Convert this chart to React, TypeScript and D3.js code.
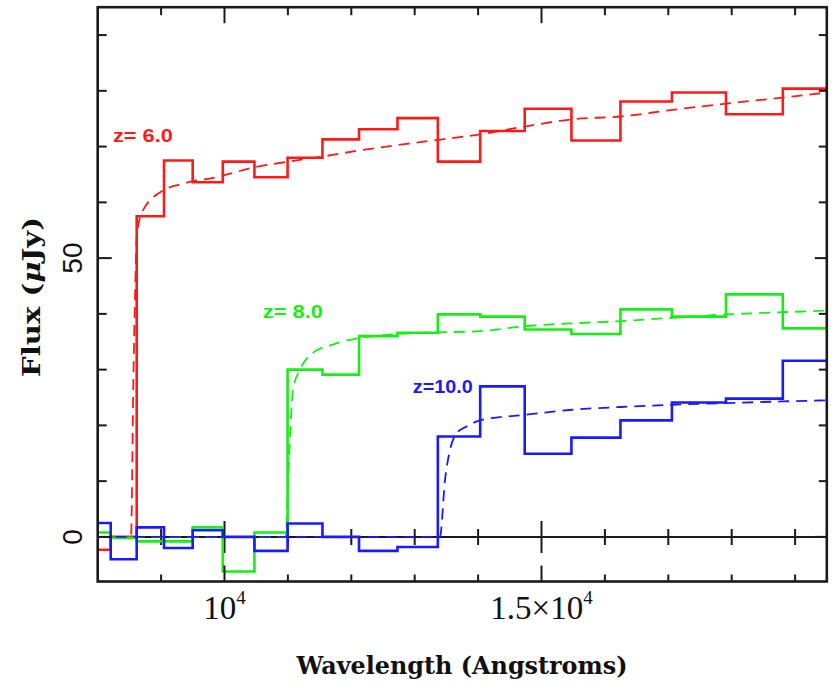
import React from "react";
import * as d3 from "d3";

// Bin edges (Angstroms) shared by the three binned spectra
const binEdges = [7814, 8205, 8615, 9046, 9498, 9973, 10472, 10995, 11545, 12122, 12728, 13365, 14033, 14735, 15472, 16245, 17057, 17910, 18806, 19746];

// Binned fluxes (μJy), one value per bin
const fluxZ6 = [-2.3, 0, 57.5, 67.5, 63.6, 67.3, 64.5, 68.0, 71.3, 73.1, 75.1, 67.3, 72.8, 76.8, 71.1, 78.1, 79.7, 75.8, 80.4];
const fluxZ8 = [0.8, -0.2, -0.8, -0.8, 1.7, -6.2, 0.8, 30.0, 29.1, 36.0, 36.6, 39.9, 39.5, 37.2, 36.4, 40.8, 39.5, 43.5, 37.4];
const fluxZ10 = [2.5, -4.0, 1.7, -2.0, 1.2, 0, -2.5, 2.4, 0, -2.5, -1.8, 18.0, 27.0, 14.9, 17.8, 20.9, 24.1, 24.8, 31.6];

// Model spectra (dashed)
const modelWaveZ6 = [8000, 8525, 8562, 8588, 8615, 8694, 9009, 9298, 9508, 9823, 10481, 11002, 11538, 12121, 13084, 14030, 14740, 15481, 16254, 17074, 17910, 18809, 19500];
const modelFluxZ6 = [0, 0, 27.7, 42.6, 53.7, 58.1, 62.0, 63.2, 63.8, 64.4, 66.3, 67.3, 68.2, 69.3, 70.8, 72.2, 73.6, 74.9, 75.4, 76.6, 77.7, 78.8, 79.7];
const modelWaveZ8 = [8000, 10965, 11000, 11037, 11081, 11190, 11395, 11711, 12137, 12768, 13084, 14030, 14740, 15481, 16254, 17074, 17910, 18809, 19500];
const modelFluxZ8 = [0, 0, 9, 18.7, 26.4, 30.0, 33.0, 34.5, 35.7, 36.4, 36.6, 36.9, 37.8, 38.3, 38.7, 39.3, 39.9, 40.3, 40.6];
const modelWaveZ10 = [8000, 13398, 13478, 13557, 13662, 13820, 14030, 14740, 15481, 16254, 17074, 17910, 18809, 19500];
const modelFluxZ10 = [0, 0, 10.2, 15.6, 18.6, 19.8, 20.9, 21.9, 22.8, 23.3, 23.7, 24.0, 24.3, 24.5];

// Redshift labels: text and anchor (wavelength, flux)
const labelText = ["z= 6.0", "z= 8.0", "z=10.0"];
const labelWave = [8240, 10605, 12970];
const labelFlux = [70.8, 39.3, 25.8];

// Axis ticks
const xMinorTicks = [9000, 10000, 11000, 12000, 13000, 14000, 15000, 16000, 17000, 18000, 19000];
const xMajorTicks = [10000, 15000];
const yTicks = [0, 10, 20, 30, 40, 50, 60, 70, 80, 90];
const yMajorTicks = [0, 50];
const yTickLabels = ["0", "50"];

const W = 837;
const H = 690;
const left = 97.7, right = 826.8, top = 7.2, bottom = 581.5;

const x = d3.scaleLinear().domain([8000, 19500]).range([left, right]);
const y = d3.scaleLinear().domain([-8, 95]).range([bottom, top]);

const colors = ["#ff1a1a", "#14f014", "#1a1aff"];

function stepPath(values: number[]) {
  const pts: [number, number][] = values.map((v, i) => [binEdges[i], v]);
  pts.push([binEdges[values.length], values[values.length - 1]]);
  return d3
    .line<[number, number]>()
    .x((d) => x(d[0]))
    .y((d) => y(d[1]))
    .curve(d3.curveStepAfter)(pts) as string;
}

function modelPath(w: number[], f: number[]) {
  const pts: [number, number][] = w.map((v, i) => [v, f[i]]);
  return d3
    .line<[number, number]>()
    .x((d) => x(d[0]))
    .y((d) => y(d[1]))
    .curve(d3.curveMonotoneX)(pts) as string;
}

export default function App() {
  const binned = [fluxZ6, fluxZ8, fluxZ10];
  const models = [
    [modelWaveZ6, modelFluxZ6],
    [modelWaveZ8, modelFluxZ8],
    [modelWaveZ10, modelFluxZ10],
  ];
  const axisColor = "#1a1a1a";
  const titleFont = "'DejaVu Serif', 'Liberation Serif', serif";
  const isMajorX = (t: number) => xMajorTicks.includes(t);
  const isMajorY = (t: number) => yMajorTicks.includes(t);

  return (
    <div style={{ position: "absolute", left: 0, top: 0 }}>
      <svg width={W} height={H} viewBox={`0 0 ${W} ${H}`} style={{ display: "block", background: "#fff" }}>
        <defs>
          <clipPath id="plot-area">
            <rect x={left} y={top} width={right - left} height={bottom - top} />
          </clipPath>
        </defs>

        <g clipPath="url(#plot-area)">
          {/* zero line with its own ticks */}
          <line x1={left} x2={right} y1={y(0)} y2={y(0)} stroke={axisColor} strokeWidth={2} />
          {xMinorTicks.map((t) => (
            <line
              key={"z" + t}
              x1={x(t)}
              x2={x(t)}
              y1={y(0) - (isMajorX(t) ? 16 : 8)}
              y2={y(0) + (isMajorX(t) ? 16 : 8)}
              stroke={axisColor}
              strokeWidth={2}
            />
          ))}

          {binned.map((vals, i) => (
            <g key={"s" + i}>
              <path
                d={modelPath(models[i][0], models[i][1])}
                fill="none"
                stroke={colors[i]}
                strokeWidth={1.8}
                strokeDasharray="11,7"
              />
              <path d={stepPath(vals)} fill="none" stroke={colors[i]} strokeWidth={2.6} />
            </g>
          ))}
        </g>

        {/* frame */}
        <rect x={left} y={top} width={right - left} height={bottom - top} fill="none" stroke={axisColor} strokeWidth={2.6} />

        {/* x ticks, bottom and top */}
        {xMinorTicks.map((t) => (
          <g key={"xt" + t} stroke={axisColor} strokeWidth={2}>
            <line x1={x(t)} x2={x(t)} y1={bottom} y2={bottom - (isMajorX(t) ? 16 : 7)} />
            <line x1={x(t)} x2={x(t)} y1={top} y2={top + (isMajorX(t) ? 16 : 8)} />
          </g>
        ))}

        {/* y ticks, left and right */}
        {yTicks.map((t) => (
          <g key={"yt" + t} stroke={axisColor} strokeWidth={2}>
            <line x1={left} x2={left + (isMajorY(t) ? 14 : 9)} y1={y(t)} y2={y(t)} />
            <line x1={right} x2={right - (isMajorY(t) ? 12 : 8)} y1={y(t)} y2={y(t)} />
          </g>
        ))}

        {/* x tick labels */}
        <text x={x(10000)} y={619} textAnchor="middle" fontFamily="'Liberation Serif', serif" fontSize={33} fill="#111">
          10<tspan dy={-15} fontSize={19}>4</tspan>
        </text>
        <text x={x(15000)} y={619} textAnchor="middle" fontFamily="'Liberation Serif', serif" fontSize={33} fill="#111">
          1.5×10<tspan dy={-15} fontSize={19}>4</tspan>
        </text>

        {/* y tick labels */}
        {yMajorTicks.map((t, i) => (
          <text
            key={"yl" + t}
            transform={`translate(82, ${y(t)}) rotate(-90)`}
            textAnchor="middle"
            fontFamily="'Liberation Sans', Arial, sans-serif"
            fontSize={28}
            fill="#111"
          >
            {yTickLabels[i]}
          </text>
        ))}

        {/* axis titles */}
        <text
          x={462}
          y={674}
          textAnchor="middle"
          fontFamily={titleFont}
          fontWeight="bold"
          fontSize={25}
          textLength={331}
          lengthAdjust="spacingAndGlyphs"
          fill="#111"
        >
          Wavelength (Angstroms)
        </text>
        <text
          transform={`translate(40, 297) rotate(-90)`}
          textAnchor="middle"
          fontFamily={titleFont}
          fontWeight="bold"
          fontSize={25}
          textLength={160}
          lengthAdjust="spacingAndGlyphs"
          fill="#111"
        >
          Flux (<tspan fontStyle="italic">μ</tspan>Jy)
        </text>

        {/* redshift labels */}
        {labelText.map((s, i) => (
          <text
            key={"lab" + i}
            x={x(labelWave[i])}
            y={y(labelFlux[i])}
            fontFamily="'Liberation Sans', Arial, sans-serif"
            fontWeight="bold"
            fontSize={18}
            textLength={60}
            lengthAdjust="spacingAndGlyphs"
            fill={colors[i]}
          >
            {s}
          </text>
        ))}
      </svg>
    </div>
  );
}
